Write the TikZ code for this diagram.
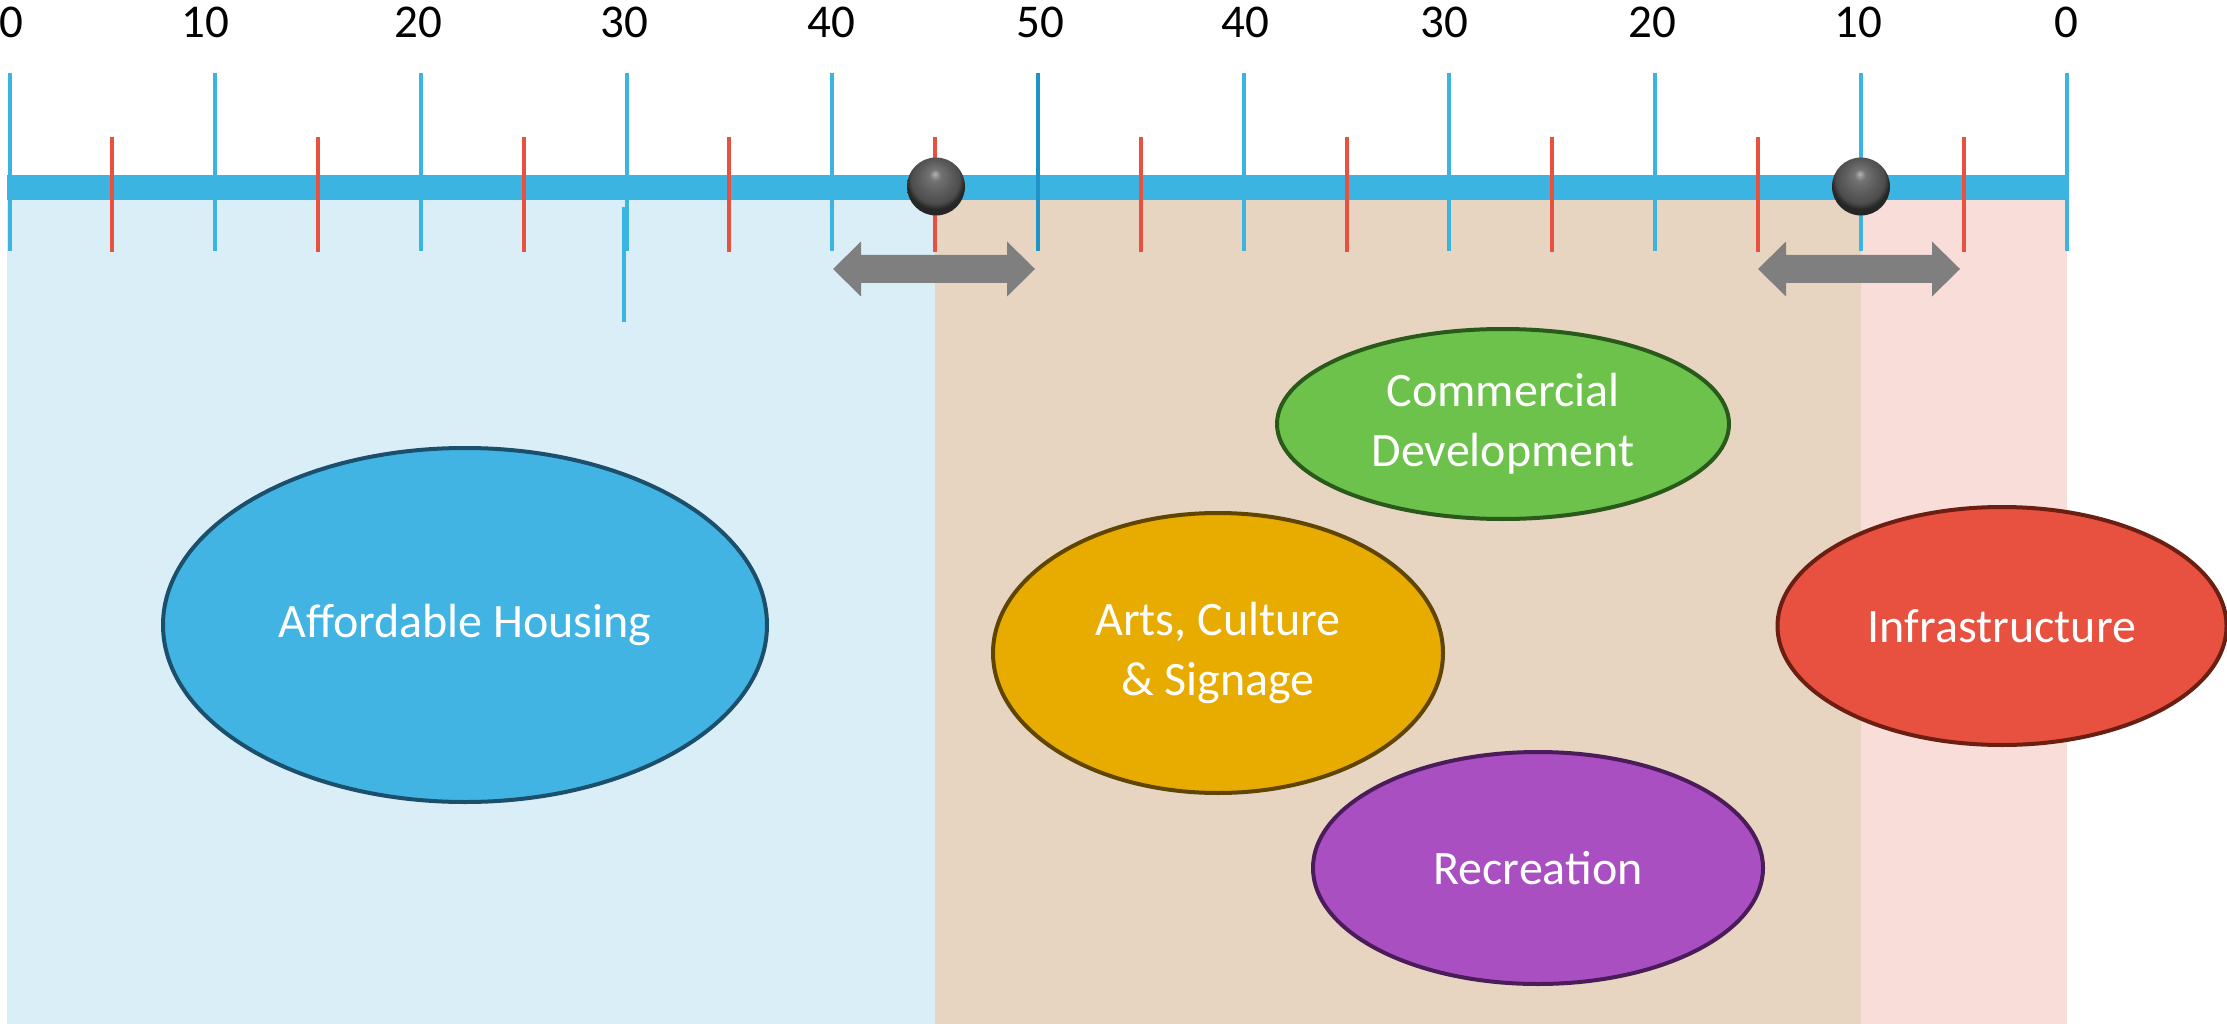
\documentclass[tikz,border=0pt]{standalone}
\usepackage{fontspec}
\setmainfont{Carlito}
\usetikzlibrary{shapes.geometric}
\definecolor{barblue}{HTML}{3CB4E2}
\definecolor{darktick}{HTML}{1F92C6}
\definecolor{redtick}{HTML}{E8503F}
\definecolor{bgblue}{HTML}{DAEEF8}
\definecolor{bgtan}{HTML}{E8D5C1}
\definecolor{bgpink}{HTML}{F8DDD9}
\definecolor{arrowgray}{HTML}{7F7F7F}
\definecolor{ahfill}{HTML}{41B4E3}
\definecolor{ahdraw}{HTML}{1B4F6B}
\definecolor{cdfill}{HTML}{6CC24A}
\definecolor{cddraw}{HTML}{2A5A1B}
\definecolor{acfill}{HTML}{E8AB00}
\definecolor{acdraw}{HTML}{5F4500}
\definecolor{rcfill}{HTML}{A94FC2}
\definecolor{rcdraw}{HTML}{4A1C5A}
\definecolor{infill}{HTML}{E8503F}
\definecolor{indraw}{HTML}{6B1E12}
\pgfdeclareradialshading{spheresh}{\pgfpoint{-1bp}{11bp}}{%
  color(0bp)=(black!30); color(5bp)=(black!55); color(14bp)=(black!64);
  color(21bp)=(black!70); color(25bp)=(black!85); color(50bp)=(black!85)}
\tikzset{
  majortick/.style={barblue, line width=4},
  minortick/.style={redtick, line width=4},
  numlabel/.style={font=\fontsize{47}{56}\selectfont, text=black, anchor=base, inner sep=0},
  blob/.style={ellipse, line width=4, inner sep=0, text=white, align=center,
     font=\fontsize{48}{60}\selectfont, minimum width=450, minimum height=280},
  marble/.style={shading=spheresh},
  dblarrow/.pic={
    \fill[arrowgray] (-101,0) -- (-73,-27.5) -- (-73,-14) -- (73,-14) -- (73,-27.5)
      -- (101,0) -- (73,27.5) -- (73,14) -- (-73,14) -- (-73,27.5) -- cycle;
  }
}
\begin{document}
\begin{tikzpicture}[x=1pt,y=-1pt]
\useasboundingbox (0,0) rectangle (2227,1024);
\fill[white] (0,0) rectangle (2227,1024);
% background regions
\fill[bgblue] (7,200) rectangle (935,1024);
\fill[bgtan] (935,200) rectangle (1861,1024);
\fill[bgpink] (1861,200) rectangle (2067,1024);
% bar
\fill[barblue] (7,175) rectangle (2069,200);
% major ticks
\foreach \i in {0,...,10} {
  \draw[majortick] ({9.5+205.7*\i},73) -- ({9.5+205.7*\i},251);
}
\draw[majortick, darktick] ({9.5+205.7*5},73) -- ({9.5+205.7*5},251);
% minor ticks
\foreach \i in {0,...,9} {
  \draw[minortick] ({112.35+205.7*\i},137) -- ({112.35+205.7*\i},252);
}
% extra tick
\draw[majortick] (624,207) -- (624,322);
% numbers
\node[numlabel] (n0) at (11.5,38) {0};
\node[numlabel] (n1) at (205,38) {10};
\node[numlabel] (n2) at (418,38) {20};
\node[numlabel] (n3) at (624,38) {30};
\node[numlabel] (n4) at (831,38) {40};
\node[numlabel] (n5) at (1040,38) {50};
\node[numlabel] (n6) at (1245,38) {40};
\node[numlabel] (n7) at (1444,38) {30};
\node[numlabel] (n8) at (1652,38) {20};
\node[numlabel] (n9) at (1858,38) {10};
\node[numlabel] (n10) at (2066,38) {0};
% spheres
\shade[marble] (936,186.5) circle (29);
\shade[marble] (1861,186.5) circle (29);
% double arrows
\pic at (934,269) {dblarrow};
\pic at (1859,269) {dblarrow};
% ellipses
\node[blob, fill=ahfill, draw=ahdraw, minimum width=604, minimum height=354] (ah) at (465,625) {Affordable Housing};
\node[blob, fill=cdfill, draw=cddraw, minimum width=452, minimum height=190] (cd) at (1503,424) {Commercial\\Development};
\node[blob, fill=acfill, draw=acdraw] (ac) at (1218,653) {Arts, Culture\\\& Signage};
\node[blob, fill=rcfill, draw=rcdraw, minimum height=232] (rc) at (1538,868) {Recreation};
\node[blob, fill=infill, draw=indraw, minimum width=449, minimum height=238] (in) at (2002,626) {Infrastructure};
\end{tikzpicture}
\end{document}
